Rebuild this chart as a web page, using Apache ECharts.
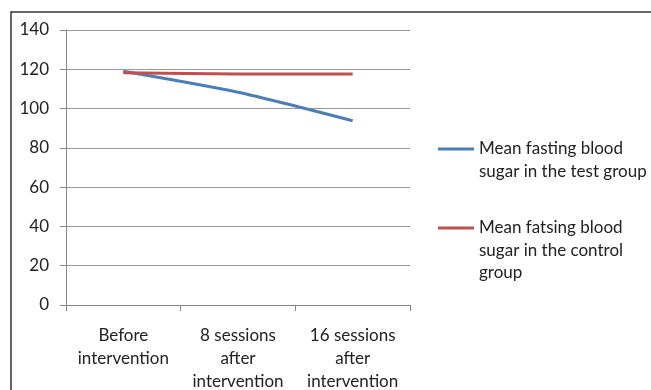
<!DOCTYPE html>
<html><head><meta charset="utf-8">
<script src="https://cdn.jsdelivr.net/npm/echarts@6/dist/echarts.min.js"></script>
<style>html,body{margin:0;padding:0;background:#fff}#c{width:651px;height:390px}</style>
</head><body><div id="c"></div>
<script>
const categories = ['Before\nintervention', '8 sessions\nafter\nintervention', '16 sessions\nafter\nintervention'];
const testGroup = [119, 108.3, 93.8];
const controlGroup = [118.2, 117.6, 117.6];
const seriesNames = ['Mean fasting blood\nsugar in the test group', 'Mean fatsing blood\nsugar in the control\ngroup'];
const yTicks = { min: 0, max: 140, interval: 20 };

const FONT = 'Lato';
const FS = 17;
const LH = 22.5;
const chart = echarts.init(document.getElementById('c'));
const legendText = { fontSize: FS, color: '#222', lineHeight: LH, fontFamily: FONT };
chart.setOption({
  animation: false,
  textStyle: { fontFamily: FONT },
  graphic: [{ type: 'rect', shape: { x: 11, y: 12, width: 700, height: 420 }, style: { fill: 'none', stroke: '#333', lineWidth: 1.5 }, silent: true }],
  grid: { left: 66, right: 241, top: 30, bottom: 85, outerBoundsMode: 'none', containLabel: false },
  legend: [
    { orient: 'vertical', left: 438, top: 149 - 1.5 * LH, padding: 0, icon: 'rect', itemWidth: 36, itemHeight: 3, itemGap: 0,
      data: [seriesNames[0]], formatter: n => '\n' + n, textStyle: legendText },
    { orient: 'vertical', left: 438, top: 228 - 2.5 * LH, padding: 0, icon: 'rect', itemWidth: 36, itemHeight: 3, itemGap: 0,
      data: [seriesNames[1]], formatter: n => '\n\n' + n, textStyle: legendText }
  ],
  xAxis: {
    type: 'category', data: categories, boundaryGap: true,
    axisLine: { lineStyle: { color: '#888', width: 1 } },
    axisTick: { show: true, length: 6, lineStyle: { color: '#888' } },
    axisLabel: { fontSize: FS, color: '#222', lineHeight: 23, margin: 19, interval: 0 }
  },
  yAxis: {
    type: 'value', min: yTicks.min, max: yTicks.max, interval: yTicks.interval,
    axisLine: { show: true, lineStyle: { color: '#888', width: 1 } },
    axisTick: { show: true, length: 6, lineStyle: { color: '#888' } },
    splitLine: { lineStyle: { color: '#999', width: 1 } },
    axisLabel: { fontSize: FS, color: '#222', margin: 17 }
  },
  series: [
    { name: seriesNames[0], type: 'line', data: testGroup, smooth: 0.25, symbol: 'none', lineStyle: { color: '#4A7EBB', width: 3 }, itemStyle: { color: '#4A7EBB' } },
    { name: seriesNames[1], type: 'line', data: controlGroup, smooth: 0.25, symbol: 'none', lineStyle: { color: '#C0504D', width: 3 }, itemStyle: { color: '#C0504D' } }
  ]
});
</script></body></html>
